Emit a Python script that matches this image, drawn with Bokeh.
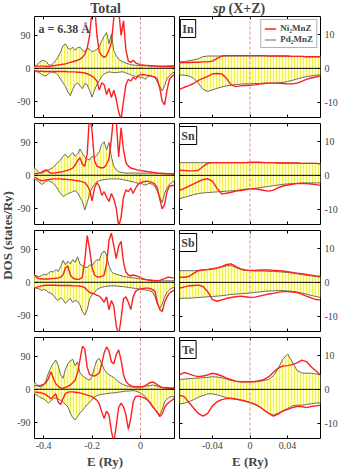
from math import pi
from bokeh.plotting import figure
from bokeh.layouts import row, column
from bokeh.models import (Range1d, LinearAxis, FixedTicker, Label,
                          Legend, LegendItem, Span)
from bokeh.embed import file_html
from bokeh.resources import INLINE

# ---------------- data ----------------
E_total = [-0.44, -0.43, -0.42, -0.41, -0.40, -0.39, -0.38, -0.37, -0.36, -0.35,
           -0.34, -0.33, -0.32, -0.31, -0.30, -0.29, -0.28, -0.27, -0.26, -0.25,
           -0.24, -0.23, -0.22, -0.21, -0.20, -0.19, -0.18, -0.17, -0.16, -0.15,
           -0.14, -0.13, -0.12, -0.11, -0.10, -0.09, -0.08, -0.07, -0.06, -0.05,
           -0.04, -0.03, -0.02, -0.01, 0.00, 0.01, 0.02, 0.03, 0.04, 0.05,
           0.06, 0.07, 0.08, 0.09, 0.10, 0.11, 0.12, 0.13, 0.14]
E_sp = [-0.075, -0.070, -0.065, -0.060, -0.055, -0.050, -0.045, -0.040, -0.035, -0.030,
        -0.025, -0.020, -0.015, -0.010, -0.005, 0.000, 0.005, 0.010, 0.015, 0.020,
        0.025, 0.030, 0.035, 0.040, 0.045, 0.050, 0.055, 0.060, 0.065, 0.070, 0.075]

elements = ["In", "Sn", "Sb", "Te"]
total_ticks_x = [-0.4, -0.2, 0]
total_ticks_y = [-90, 0, 90]
sp_ticks_x = [-0.04, 0, 0.04]
sp_ticks_y = [-10, 0, 10]

# Total DOS, Pd2MnZ (filled) and Ni2MnZ (red), spin up (+) / spin down (-)
In_tot_Pd_up = [5, 8, 15, 20, 22, 18, 10, 8, 14, 22,
                32, 45, 62, 67, 55, 52, 58, 50, 56, 58,
                50, 45, 55, 52, 45, 48, 52, 60, 75, 88,
                98, 68, 94, 48, 35, 25, 20, 17, 14, 12,
                10, 9, 8, 8, 7, 7, 7, 7, 6, 6,
                6, 6, 6, 6, 6, 6, 7, 7, 7]
In_tot_Pd_dn = [-5, -9, -12, -16, -20, -21, -15, -10, -11, -13,
                -20, -30, -40, -50, -65, -75, -58, -45, -40, -48,
                -56, -42, -45, -62, -79, -60, -45, -34, -22, -16,
                -12, -10, -11, -12, -12, -11, -10, -10, -13, -15,
                -18, -21, -22, -24, -24, -26, -30, -24, -20, -23,
                -25, -38, -50, -62, -48, -28, -20, -15, -10]
In_tot_Ni_up = [6, 6, 6, 6, 6, 5, 5, 6, 7, 8,
                9, 10, 11, 12, 14, 16, 18, 20, 22, 25,
                30, 38, 55, 90, 160, 180, 90, 45, 35, 30,
                35, 50, 70, 140, 180, 160, 90, 130, 50, 20,
                16, 22, 15, 12, 10, 9, 8, 8, 7, 7,
                6, 6, 5, 5, 5, 5, 5, 4, 4]
In_tot_Ni_dn = [-6, -7, -8, -8, -9, -9, -9, -9, -9, -9,
                -9, -9, -9, -9, -10, -10, -10, -10, -11, -11,
                -12, -13, -15, -18, -22, -27, -35, -60, -40, -45,
                -72, -55, -80, -60, -85, -120, -140, -90, -45, -30,
                -35, -25, -30, -20, -18, -17, -18, -20, -20, -22,
                -24, -30, -55, -90, -100, -60, -30, -22, -18]

Sn_tot_Pd_up = [22, 15, 8, 6, 8, 12, 15, 18, 22, 30,
                36, 42, 52, 58, 48, 55, 62, 52, 58, 72,
                60, 50, 45, 42, 52, 48, 55, 65, 85, 92,
                70, 90, 50, 25, 15, 10, 8, 7, 6, 6,
                6, 6, 6, 6, 6, 6, 6, 6, 6, 6,
                6, 5, 5, 5, 5, 5, 5, 4, 4]
Sn_tot_Pd_dn = [-10, -13, -18, -25, -22, -16, -15, -18, -22, -30,
                -40, -50, -58, -55, -50, -48, -45, -42, -48, -60,
                -72, -95, -75, -50, -35, -25, -18, -15, -13, -12,
                -11, -10, -10, -10, -10, -10, -11, -12, -14, -15,
                -17, -18, -20, -22, -22, -24, -27, -24, -22, -26,
                -30, -45, -60, -75, -50, -35, -25, -20, -15]
Sn_tot_Ni_up = [5, 5, 6, 8, 12, 15, 10, 6, 6, 7,
                8, 9, 10, 12, 14, 16, 20, 28, 40, 48,
                30, 25, 60, 170, 120, 40, 25, 22, 20, 22,
                30, 45, 100, 170, 150, 50, 130, 70, 35, 25,
                20, 18, 16, 14, 13, 12, 11, 10, 9, 8,
                7, 6, 6, 5, 5, 4, 4, 4, 4]
Sn_tot_Ni_dn = [-5, -8, -12, -15, -14, -13, -12, -11, -10, -10,
                -10, -10, -11, -11, -12, -12, -13, -14, -15, -16,
                -18, -20, -28, -40, -70, -35, -20, -30, -55, -45,
                -60, -72, -50, -65, -90, -140, -115, -60, -40, -45,
                -35, -50, -35, -25, -20, -18, -17, -16, -18, -20,
                -25, -35, -65, -92, -80, -45, -30, -28, -28]

Sb_tot_Pd_up = [20, 18, 15, 18, 22, 20, 25, 30, 28, 35,
                30, 42, 60, 48, 58, 50, 62, 55, 70, 50,
                45, 42, 40, 48, 45, 55, 62, 60, 80, 86,
                75, 45, 30, 24, 22, 20, 18, 16, 15, 14,
                13, 12, 11, 10, 9, 8, 8, 7, 7, 6,
                5, 5, 4, 4, 4, 4, 4, 4, 4]
Sb_tot_Pd_dn = [-14, -16, -18, -22, -20, -22, -28, -30, -35, -45,
                -50, -42, -48, -58, -50, -45, -55, -50, -52, -62,
                -80, -90, -75, -45, -35, -28, -20, -16, -14, -12,
                -11, -10, -10, -10, -10, -11, -12, -12, -13, -14,
                -15, -16, -17, -18, -19, -20, -21, -22, -24, -26,
                -40, -60, -72, -60, -40, -28, -20, -16, -14]
Sb_tot_Ni_up = [20, 14, 10, 9, 9, 9, 9, 10, 10, 11,
                12, 14, 20, 40, 45, 20, 12, 9, 8, 9,
                14, 60, 128, 90, 40, 20, 15, 14, 16, 20,
                50, 115, 135, 100, 65, 100, 112, 55, 28, 20,
                18, 20, 18, 16, 13, 10, 8, 6, 5, 4,
                4, 4, 5, 8, 10, 13, 14, 12, 12]
Sb_tot_Ni_dn = [-17, -14, -12, -10, -9, -8, -8, -8, -8, -8,
                -9, -9, -9, -9, -9, -9, -10, -10, -10, -11,
                -12, -15, -22, -28, -30, -32, -36, -38, -45, -55,
                -40, -75, -50, -65, -120, -145, -100, -45, -40, -55,
                -75, -40, -25, -20, -18, -17, -16, -16, -17, -20,
                -25, -55, -75, -80, -55, -40, -30, -25, -22]

Te_tot_Pd_up = [20, 14, 8, 6, 12, 25, 45, 60, 72, 80,
                65, 40, 30, 55, 70, 78, 82, 65, 75, 45,
                38, 32, 28, 25, 35, 60, 80, 85, 70, 55,
                45, 40, 36, 32, 26, 20, 16, 13, 10, 8,
                7, 6, 6, 6, 6, 6, 8, 9, 10, 12,
                10, 8, 6, 5, 5, 5, 4, 4, 4]
Te_tot_Pd_dn = [-12, -15, -20, -24, -26, -32, -38, -32, -25, -24,
                -28, -30, -35, -42, -48, -65, -78, -84, -75, -65,
                -58, -50, -42, -35, -28, -22, -18, -15, -14, -13,
                -12, -11, -10, -10, -9, -8, -7, -6, -5, -5,
                -4, -4, -5, -7, -10, -15, -20, -28, -35, -45,
                -55, -62, -70, -55, -35, -26, -22, -20, -20]
Te_tot_Ni_up = [10, 10, 10, 11, 13, 18, 30, 48, 30, 15,
                8, 4, 3, 5, 8, 12, 18, 25, 45, 80,
                118, 110, 60, 40, 38, 36, 40, 45, 70, 100,
                116, 105, 75, 70, 95, 108, 80, 40, 22, 14,
                10, 8, 7, 7, 7, 8, 10, 14, 18, 20,
                17, 12, 8, 5, 4, 3, 2, 2, 2]
Te_tot_Ni_dn = [-7, -8, -9, -10, -12, -15, -20, -26, -20, -12,
                -35, -42, -25, -12, -8, -7, -7, -8, -9, -10,
                -12, -14, -16, -18, -20, -25, -30, -40, -62, -80,
                -60, -70, -115, -145, -100, -50, -38, -48, -70, -110,
                -80, -35, -20, -18, -20, -22, -25, -30, -38, -48,
                -55, -65, -75, -68, -50, -40, -35, -30, -25]

# sp (X+Z) partial DOS
In_sp_Pd_up = [1.9, 2.0, 2.2, 2.5, 2.8, 3.4, 3.6, 3.6, 3.6, 3.6,
               3.6, 3.6, 3.6, 3.6, 3.6, 3.6, 3.6, 3.6, 3.6, 3.6,
               3.6, 3.6, 3.6, 3.5, 3.5, 3.5, 3.5, 3.4, 3.4, 3.4, 3.4]
In_sp_Pd_dn = [-1.9, -2.0, -2.2, -2.9, -4.3, -6.1, -6.7, -6.3, -5.8, -5.4,
               -5.1, -4.9, -4.7, -4.6, -4.5, -4.5, -4.4, -4.4, -4.3, -4.3,
               -4.3, -4.2, -4.1, -3.8, -3.5, -3.1, -2.7, -2.4, -2.2, -2.0, -1.9]
In_sp_Ni_up = [1.6, 1.7, 1.7, 1.8, 1.8, 1.9, 1.9, 2.1, 2.9, 3.6,
               3.7, 3.7, 3.7, 3.7, 3.7, 3.7, 3.7, 3.7, 3.7, 3.6,
               3.6, 3.6, 3.6, 3.6, 3.5, 3.5, 3.5, 3.4, 3.4, 3.4, 3.4]
In_sp_Ni_dn = [-6.1, -5.5, -5.0, -4.4, -3.5, -2.9, -2.3, -1.6, -1.5, -1.6,
               -2.9, -4.8, -5.3, -5.1, -5.0, -4.9, -4.8, -4.6, -4.4, -4.3,
               -4.3, -4.3, -4.4, -4.5, -4.5, -4.3, -3.8, -3.2, -2.8, -2.5, -2.2]

Sn_sp_Pd_up = [3.7, 3.7, 3.7, 3.7, 3.7, 3.7, 3.7, 3.7, 3.7, 3.7,
               3.7, 3.7, 3.7, 3.7, 3.7, 3.7, 3.7, 3.7, 3.7, 3.7,
               3.7, 3.6, 3.6, 3.6, 3.6, 3.6, 3.5, 3.5, 3.5, 3.5, 3.4]
Sn_sp_Pd_dn = [-6.8, -6.4, -6.0, -5.6, -5.3, -5.1, -5.0, -4.9, -4.8, -4.7,
               -4.6, -4.5, -4.4, -4.2, -4.0, -3.9, -3.8, -3.6, -3.4, -3.2,
               -3.0, -2.8, -2.6, -2.5, -2.4, -2.3, -2.3, -2.2, -2.2, -2.2, -2.2]
Sn_sp_Ni_up = [1.5, 1.4, 1.3, 1.3, 1.5, 2.6, 3.5, 3.7, 3.7, 3.7,
               3.7, 3.7, 3.7, 3.7, 3.7, 3.8, 3.8, 3.8, 3.7, 3.7,
               3.7, 3.6, 3.6, 3.6, 3.6, 3.6, 3.5, 3.5, 3.5, 3.5, 3.4]
Sn_sp_Ni_dn = [-4.4, -3.8, -3.1, -2.5, -1.8, -1.2, -1.0, -1.7, -3.8, -5.4,
               -5.2, -4.9, -4.6, -4.4, -4.2, -4.0, -3.9, -4.1, -4.4, -4.6,
               -4.3, -3.6, -3.1, -2.8, -2.6, -2.4, -2.3, -2.4, -2.5, -2.7, -2.9]

Sb_sp_Pd_up = [3.4, 3.4, 3.4, 3.4, 3.5, 3.6, 3.8, 4.0, 4.2, 4.5,
               4.8, 4.9, 4.3, 3.8, 3.5, 3.4, 3.3, 3.3, 3.3, 3.2,
               3.2, 3.1, 3.0, 2.9, 2.7, 2.5, 2.3, 2.1, 1.9, 1.7, 1.5]
Sb_sp_Pd_dn = [-4.7, -4.6, -4.6, -4.5, -4.4, -4.3, -4.2, -4.1, -4.0, -3.9,
               -3.7, -3.5, -3.4, -3.3, -3.2, -3.1, -2.9, -2.8, -2.6, -2.5,
               -2.5, -2.4, -2.4, -2.5, -2.6, -2.8, -3.1, -3.4, -3.8, -4.1, -4.4]
Sb_sp_Ni_up = [1.5, 1.5, 1.7, 2.6, 3.4, 3.6, 3.7, 3.9, 4.2, 4.6,
               5.2, 5.4, 4.6, 3.9, 3.6, 3.5, 3.5, 3.6, 3.6, 3.6,
               3.5, 3.4, 3.3, 3.1, 2.9, 2.7, 2.5, 2.3, 2.1, 1.9, 1.8]
Sb_sp_Ni_dn = [-1.7, -1.3, -1.0, -0.9, -0.8, -1.2, -2.7, -5.0, -5.5, -5.1,
               -4.7, -4.4, -4.2, -4.0, -4.2, -4.4, -4.3, -4.0, -3.7, -3.4,
               -3.2, -2.9, -2.7, -2.7, -2.8, -3.0, -3.4, -4.0, -4.5, -5.0, -5.1]

Te_sp_Pd_up = [2.9, 3.0, 3.1, 3.2, 3.3, 3.4, 3.5, 3.7, 3.6, 3.4,
               3.0, 2.6, 2.3, 2.2, 2.2, 2.2, 2.2, 2.3, 2.6, 2.9,
               4.0, 6.1, 8.8, 10.3, 8.0, 5.5, 4.8, 4.7, 4.7, 4.5, 4.2]
Te_sp_Pd_dn = [-4.3, -4.0, -3.6, -3.0, -2.3, -1.8, -1.3, -1.3, -1.6, -2.0,
               -2.4, -2.7, -2.9, -3.1, -3.5, -3.9, -4.4, -5.1, -6.1, -7.0,
               -7.5, -6.9, -6.2, -5.6, -4.8, -4.6, -4.6, -4.4, -4.2, -4.0, -3.9]
Te_sp_Ni_up = [4.2, 4.9, 4.5, 4.0, 3.7, 3.9, 4.2, 4.7, 4.4, 3.9,
               3.3, 2.8, 2.4, 2.2, 2.2, 2.2, 2.3, 2.5, 2.9, 3.7,
               5.0, 6.2, 6.8, 6.9, 7.2, 7.7, 8.5, 8.1, 6.6, 5.4, 4.2]
Te_sp_Ni_dn = [-1.7, -2.1, -3.8, -5.4, -7.0, -7.8, -7.0, -4.8, -3.6, -3.0,
               -2.7, -2.6, -2.8, -3.1, -3.4, -3.8, -4.3, -5.0, -6.0, -7.0,
               -7.8, -7.2, -6.3, -5.8, -5.3, -5.0, -5.0, -5.3, -5.0, -4.8, -4.6]

total_sets = [(In_tot_Pd_up, In_tot_Pd_dn, In_tot_Ni_up, In_tot_Ni_dn),
              (Sn_tot_Pd_up, Sn_tot_Pd_dn, Sn_tot_Ni_up, Sn_tot_Ni_dn),
              (Sb_tot_Pd_up, Sb_tot_Pd_dn, Sb_tot_Ni_up, Sb_tot_Ni_dn),
              (Te_tot_Pd_up, Te_tot_Pd_dn, Te_tot_Ni_up, Te_tot_Ni_dn)]
sp_sets = [(In_sp_Pd_up, In_sp_Pd_dn, In_sp_Ni_up, In_sp_Ni_dn),
           (Sn_sp_Pd_up, Sn_sp_Pd_dn, Sn_sp_Ni_up, Sn_sp_Ni_dn),
           (Sb_sp_Pd_up, Sb_sp_Pd_dn, Sb_sp_Ni_up, Sb_sp_Ni_dn),
           (Te_sp_Pd_up, Te_sp_Pd_dn, Te_sp_Ni_up, Te_sp_Ni_dn)]

# ---------------- style / layout ----------------
FONT = "Liberation Serif"
RED = "#ff1f1f"
GRAY = "#5a5a52"
FILL = "#ffffc8"
HATCH = "#f4f04a"
FH = 101
LFW, RFW = 141, 141
XR_L, YR_L = (-0.438, 0.145), (-135.0, 142.0)
XR_R, YR_R = (-0.075, 0.075), (-14.3, 15.1)
YLAB_W = 14
L_MBL, L_MBR, R_MBL, R_MBR = 18, 0, 4, 20
HEADER_H = 16
ROW_TOP = [0, 3, 3, 3]
ROW_BOT = [3, 3, 3, 30]


def x_at(xr, fw, px):
    return xr[0] + (xr[1] - xr[0]) * px / fw


def y_at(yr, px):
    return yr[1] - (yr[1] - yr[0]) * px / FH


def style_axis(ax, ticks, labels, standoff=4):
    ax.ticker = FixedTicker(ticks=ticks)
    ax.major_tick_in = 3
    ax.major_tick_out = 0
    ax.minor_tick_line_color = None
    ax.axis_line_color = None
    ax.major_tick_line_color = "black"
    ax.major_label_text_font = FONT
    if labels:
        ax.major_label_text_font_size = "10px"
        ax.major_label_standoff = standoff
        ax.major_label_overrides = {t: ("%g" % t) for t in ticks}
    else:
        ax.major_label_text_font_size = "0px"
        ax.major_label_standoff = 0
        ax.major_label_overrides = {t: "" for t in ticks}


def build_panel(side, i, pd_up, pd_dn, ni_up, ni_dn):
    last = (i == 3)
    if side == "L":
        xr, yr, fw, E = XR_L, YR_L, LFW, E_total
        xt, yt = total_ticks_x, total_ticks_y
        mbl, mbr, yloc, other = L_MBL, L_MBR, "left", "right"
    else:
        xr, yr, fw, E = XR_R, YR_R, RFW, E_sp
        xt, yt = sp_ticks_x, sp_ticks_y
        mbl, mbr, yloc, other = R_MBL, R_MBR, "right", "left"
    p = figure(frame_width=fw, frame_height=FH, title=None,
               x_range=Range1d(*xr), y_range=Range1d(*yr),
               output_backend="svg", toolbar_location=None,
               x_axis_location="below", y_axis_location=yloc,
               min_border_left=mbl, min_border_right=mbr,
               min_border_top=ROW_TOP[i], min_border_bottom=ROW_BOT[i])
    p.grid.visible = False
    p.outline_line_color = "black"
    p.outline_line_width = 1
    p.background_fill_color = "white"
    p.border_fill_color = "white"

    style_axis(p.xaxis[0], xt, last, standoff=3)
    if last:
        p.xaxis[0].axis_label = "E (Ry)"
        p.xaxis[0].axis_label_text_font = FONT
        p.xaxis[0].axis_label_text_font_style = "bold"
        p.xaxis[0].axis_label_text_font_size = "13px"
        p.xaxis[0].axis_label_standoff = 2
    style_axis(p.yaxis[0], yt, True, standoff=4)
    top_ax = LinearAxis()
    style_axis(top_ax, xt, False)
    p.add_layout(top_ax, "above")
    side_ax = LinearAxis()
    style_axis(side_ax, yt, False)
    p.add_layout(side_ax, other)

    p.varea(x=E, y1=[0] * len(E), y2=pd_up, fill_color=FILL,
            hatch_pattern="|", hatch_color=HATCH, hatch_scale=3, hatch_weight=1)
    p.varea(x=E, y1=pd_dn, y2=[0] * len(E), fill_color=FILL,
            hatch_pattern="|", hatch_color=HATCH, hatch_scale=3, hatch_weight=1)
    pd_r = p.line(E, pd_up, line_color=GRAY, line_width=0.9)
    p.line(E, pd_dn, line_color=GRAY, line_width=0.9)
    ni_r = p.line(E, ni_up, line_color=RED, line_width=1.4)
    p.line(E, ni_dn, line_color=RED, line_width=1.4)
    p.add_layout(Span(location=0, dimension="height", line_color="#e08c8c",
                      line_width=1, line_dash="3 2"))
    p.add_layout(Span(location=0, dimension="width", line_color="black",
                      line_width=1))

    if side == "R":
        # element name box at the inner edge of the sp panel
        p.add_layout(Label(x=x_at(xr, fw, 8.5), y=y_at(yr, 12), text=elements[i],
                           text_font=FONT, text_font_style="bold",
                           text_font_size="12px", text_align="center",
                           text_baseline="middle", padding=2,
                           background_fill_color="white", background_fill_alpha=1,
                           border_line_color="black", border_line_width=1,
                           level="overlay"))

    if side == "L" and i == 0:
        p.add_layout(Label(x=x_at(xr, fw, 4), y=y_at(yr, 5), text="a = 6.38 Å",
                           text_font=FONT, text_font_style="bold",
                           text_font_size="12px", text_baseline="top"))
    if side == "R" and i == 0:
        leg = Legend(items=[LegendItem(label="Ni₂MnZ", renderers=[ni_r]),
                            LegendItem(label="Pd₂MnZ", renderers=[pd_r])],
                     location="top_right")
        leg.label_text_font = FONT
        leg.label_text_font_style = "bold"
        leg.label_text_font_size = "9px"
        leg.glyph_width = 12
        leg.glyph_height = 9
        leg.spacing = 1
        leg.padding = 3
        leg.margin = 3
        leg.label_standoff = 4
        leg.label_height = 10
        leg.border_line_color = "#666666"
        leg.background_fill_alpha = 1
        p.add_layout(leg)
    return p


rows = []
for i in range(4):
    left = build_panel("L", i, *total_sets[i])
    right = build_panel("R", i, *sp_sets[i])
    rows.append(row(left, right))
grid = column(*rows)

GRID_H = sum(ROW_TOP) + sum(ROW_BOT) + 4 * FH
ylab = figure(width=YLAB_W, height=GRID_H, title=None,
              x_range=Range1d(0, YLAB_W), y_range=Range1d(0, GRID_H),
              output_backend="svg", toolbar_location=None,
              x_axis_location=None, y_axis_location=None, min_border=0)
ylab.grid.visible = False
ylab.outline_line_color = None
ylab.add_layout(Label(x=YLAB_W / 2, y=GRID_H - (235 - HEADER_H), text="DOS (states/Ry)",
                      angle=pi / 2, text_font=FONT, text_font_style="bold",
                      text_font_size="13px", text_align="center", text_baseline="middle"))

TOTAL_W = YLAB_W + (L_MBL + LFW + L_MBR) + (R_MBL + RFW + R_MBR)
header = figure(width=TOTAL_W, height=HEADER_H, title=None,
                x_range=Range1d(0, TOTAL_W), y_range=Range1d(0, HEADER_H),
                output_backend="svg", toolbar_location=None,
                x_axis_location=None, y_axis_location=None, min_border=0)
header.grid.visible = False
header.outline_line_color = None
header.add_layout(Label(x=105, y=HEADER_H / 2, text="Total", text_font=FONT,
                        text_font_style="bold", text_font_size="14px",
                        text_align="center", text_baseline="middle"))
header.add_layout(Label(x=225, y=HEADER_H / 2, text="sp", text_font=FONT,
                        text_font_style="bold italic", text_font_size="14px",
                        text_align="right", text_baseline="middle"))
header.add_layout(Label(x=228, y=HEADER_H / 2, text="(X+Z)", text_font=FONT,
                        text_font_style="bold", text_font_size="14px",
                        text_align="left", text_baseline="middle"))

layout = column(header, row(ylab, grid))
open("out.html", "w").write(file_html(layout, INLINE))
